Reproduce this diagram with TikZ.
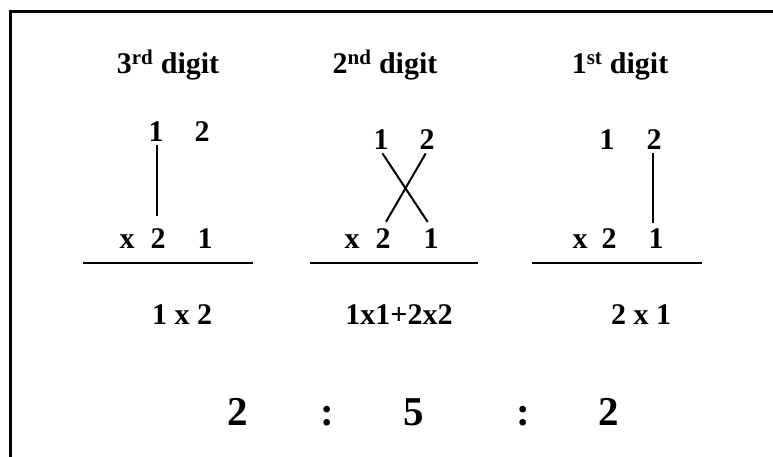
\documentclass[tikz,border=0pt]{standalone}
\usepackage{fontspec}
\setmainfont{Liberation Serif}
\begin{document}
\begin{tikzpicture}[x=1pt,y=-1pt,
  txt/.style={font=\bfseries\fontsize{30}{34}\selectfont, anchor=base, inner sep=1pt},
  big/.style={font=\bfseries\fontsize{41}{46}\selectfont, anchor=base, inner sep=1pt},
  link/.style={line width=2pt},
  rule/.style={line width=2.8pt},
  frame/.style={line width=3pt}]
\useasboundingbox (0,0) rectangle (773,457);
\coordinate (fb) at (10,460);
\coordinate (fc) at (10,12);
\coordinate (fr) at (776,12);
\draw[frame] (fb) -- (fc) -- (fr);
% headers
\node[txt] (h3) at (168,74) {3\textsuperscript{rd} digit};
\node[txt] (h2) at (385,74) {2\textsuperscript{nd} digit};
\node[txt] (h1) at (620,74) {1\textsuperscript{st} digit};
% column 3rd
\node[txt] (a1) at (156,142) {1};
\node[txt] (a2) at (202,142) {2};
\node[txt] (ax) at (127,248) {x};
\node[txt] (ab2) at (158,248) {2};
\node[txt] (ab1) at (205,248) {1};
\draw[link] ([xshift=1pt,yshift=-2pt]a1.south) -- ([xshift=1pt,yshift=11pt]a1.south |- ab2.north);
\coordinate (r1a) at (83,263);
\coordinate (r1b) at (253,263);
\draw[rule] (r1a) -- (r1b);
\node[txt] (p3) at (182,324) {1 x 2};
% column 2nd
\node[txt] (b1) at (381,150) {1};
\node[txt] (b2) at (427,150) {2};
\node[txt] (bx) at (352,248) {x};
\node[txt] (bb2) at (383,248) {2};
\node[txt] (bb1) at (431,248) {1};
\draw[link, shorten <=2.5pt, shorten >=6pt] (b1.south) -- (bb1.north);
\draw[link, shorten <=2.5pt, shorten >=6pt] (b2.south) -- (bb2.north);
\coordinate (r2a) at (310,263);
\coordinate (r2b) at (478,263);
\draw[rule] (r2a) -- (r2b);
\node[txt] (p2) at (399,324) {1x1+2x2};
% column 1st
\node[txt] (c1) at (607,150) {1};
\node[txt] (c2) at (654,150) {2};
\node[txt] (cx) at (580,248) {x};
\node[txt] (cb2) at (609,248) {2};
\node[txt] (cb1) at (656,248) {1};
\draw[link] ([xshift=-1pt,yshift=-2pt]c2.south) -- ([xshift=-1pt,yshift=4pt]c2.south |- cb1.north);
\coordinate (r3a) at (532,263);
\coordinate (r3b) at (702,263);
\draw[rule] (r3a) -- (r3b);
\node[txt] (p1) at (641,324) {2 x 1};
% result
\node[big] (d3) at (238,425) {2};
\node[big] (s1) at (327,425) {:};
\node[big] (d2) at (414,425) {5};
\node[big] (s2) at (523,425) {:};
\node[big] (d1) at (609,425) {2};
\end{tikzpicture}
\end{document}
